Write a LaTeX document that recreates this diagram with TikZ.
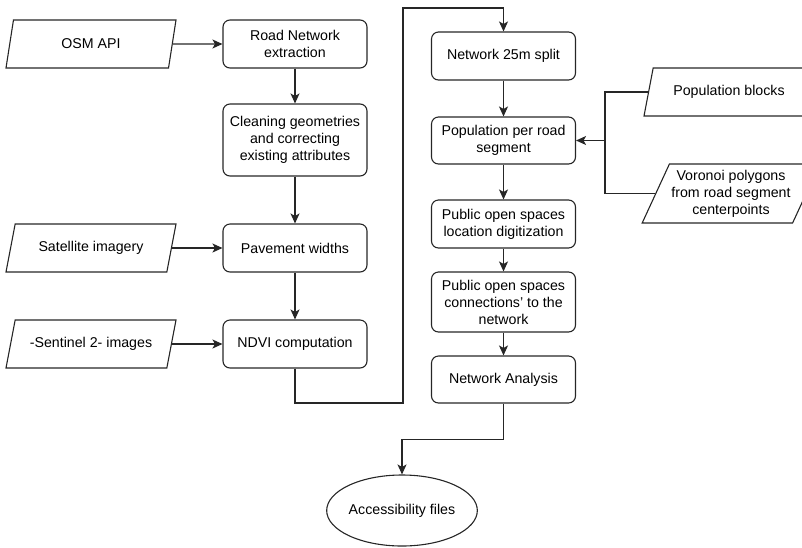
\documentclass[tikz,border=0pt]{standalone}
\usepackage{fontspec}
\setmainfont{Liberation Sans}
\usetikzlibrary{shapes.geometric,arrows.meta}
\begin{document}
\begin{tikzpicture}[x=1pt,y=-1pt,
  font=\fontsize{14.2}{17}\selectfont,
  line width=1.1pt, draw=black!85,
  box/.style={draw, rounded corners=7pt, align=center, minimum width=144pt, inner sep=2pt},
  io/.style={draw, trapezium, trapezium left angle=62, trapezium right angle=118,
     trapezium stretches body, minimum width=170pt, minimum height=48pt, align=center, inner sep=2pt},
  arr/.style={-{Stealth[length=10pt,width=9pt,inset=2.5pt]}}
]
\useasboundingbox (0,0) rectangle (802,547);
\clip (0,0) rectangle (802,547);
% left input column
\node[io] (osm) at (91,44) {OSM API};
\node[io] (sat) at (91,248) {Satellite imagery};
\node[io] (sent) at (91,344) {-Sentinel 2- images};
% middle column
\node[box, minimum height=48pt] (road) at (295,44) {Road Network\\extraction};
\node[box, minimum height=72pt] (clean) at (295,140) {Cleaning geometries\\and correcting\\existing attributes};
\node[box, minimum height=48pt] (pav) at (295,248) {Pavement widths};
\node[box, minimum height=48pt] (ndvi) at (295,344) {NDVI computation};
% right column
\node[box, minimum height=48pt] (split) at (503.5,56) {Network 25m split};
\node[box, minimum height=47pt] (pop) at (503.5,140.5) {Population per road\\segment};
\node[box, minimum height=48pt] (posl) at (503.5,224) {Public open spaces\\location digitization};
\node[box, minimum height=60pt] (posc) at (503.5,302) {Public open spaces\\connections' to the\\network};
\node[box, minimum height=47pt] (na) at (503.5,379.5) {Network Analysis};
% right inputs
\node[io] (popb) at (729,92) {Population blocks};
\node[io, minimum height=59pt] (vor) at (731,193.5) {Voronoi polygons\\from road segment\\centerpoints};
% output
\node[draw, ellipse, minimum width=144pt, minimum height=71pt, inner sep=0pt] (acc) at (402,510.5) {Accessibility files};
% coordinates
\coordinate (c1) at (403,403);
\coordinate (c2) at (403,8);
\coordinate (j) at (605,140.5);
% connectors
\draw[arr] (osm.east) -- (road.west);
\draw[arr] (sat.east) -- (pav.west);
\draw[arr] (sent.east) -- (ndvi.west);
\draw[arr] (road) -- (clean);
\draw[arr] (clean) -- (pav);
\draw[arr] (pav) -- (ndvi);
\draw[arr] (ndvi.south) |- (c1) -- (c2) -| (split.north);
\draw[arr] (split) -- (pop);
\draw[arr] (pop) -- (posl);
\draw[arr] (posl) -- (posc);
\draw[arr] (posc) -- (na);
\draw (popb.west) -| (j) |- (vor.west);
\draw[arr] (j) -- (pop.east);
\draw[arr] (na.south) -- ++(0,36) -| (acc.north);
\end{tikzpicture}
\end{document}
